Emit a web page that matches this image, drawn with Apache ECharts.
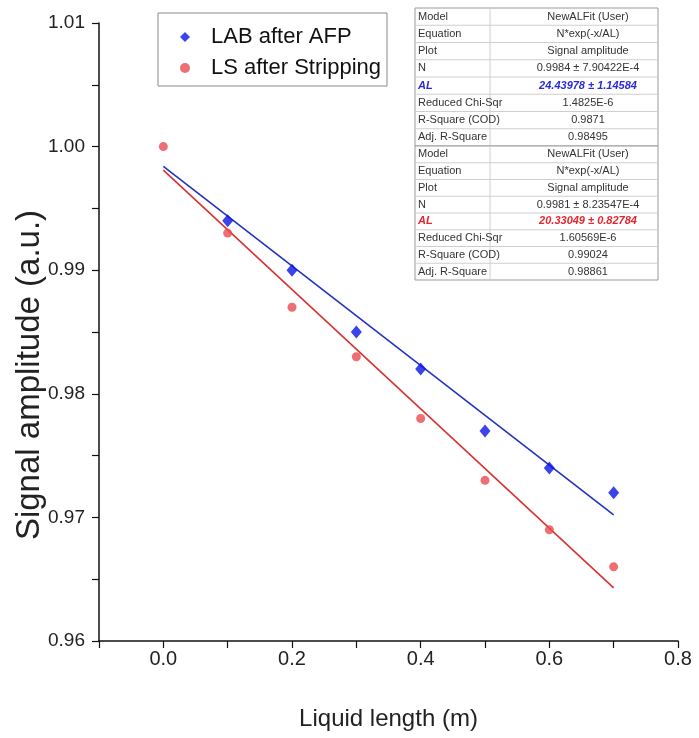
<!DOCTYPE html>
<html>
<head>
<meta charset="utf-8">
<script src="https://cdn.jsdelivr.net/npm/echarts@6/dist/echarts.min.js"></script>
<style>
html,body{margin:0;padding:0;background:#fff;}
#chart{width:699px;height:738px;}
</style>
</head>
<body>
<div id="chart"></div>
<script>
// ---- data ----
var labX = [0.1, 0.2, 0.3, 0.4, 0.5, 0.6, 0.7];
var labY = [0.994, 0.990, 0.985, 0.982, 0.977, 0.974, 0.972];
var lsX = [0.0, 0.1, 0.2, 0.3, 0.4, 0.5, 0.6, 0.7];
var lsY = [1.000, 0.993, 0.987, 0.983, 0.978, 0.973, 0.969, 0.966];
// fit line endpoints
var labFitX = [0.0, 0.7];
var labFitY = [0.9984, 0.9702];
var lsFitX = [0.0, 0.7];
var lsFitY = [0.9981, 0.9643];
var seriesNames = ['LAB after AFP', 'LS after Stripping'];
var tableLabels = ['Model', 'Equation', 'Plot', 'N', 'AL', 'Reduced Chi-Sqr', 'R-Square (COD)', 'Adj. R-Square'];
var labFitTable = ['NewALFit (User)', 'N*exp(-x/AL)', 'Signal amplitude', '0.9984 \u00b1 7.90422E-4', '24.43978 \u00b1 1.14584', '1.4825E-6', '0.9871', '0.98495'];
var lsFitTable = ['NewALFit (User)', 'N*exp(-x/AL)', 'Signal amplitude', '0.9981 \u00b1 8.23547E-4', '20.33049 \u00b1 0.82784', '1.60569E-6', '0.99024', '0.98861'];

var FONT = '"Liberation Sans", Arial, sans-serif';
var TFONT = '"Liberation Sans", Arial, sans-serif';

function zip(a, b) { return a.map(function (v, i) { return [v, b[i]]; }); }

function buildTable(x, y, w, h, sepX, labels, values, accent) {
  var rowH = h / labels.length;
  var children = [];
  children.push({ type: 'rect', shape: { x: x, y: y, width: w, height: h }, style: { fill: '#fff', stroke: '#9a9a9a', lineWidth: 1 } });
  for (var i = 1; i < labels.length; i++) {
    children.push({ type: 'line', shape: { x1: x, y1: y + i * rowH, x2: x + w, y2: y + i * rowH }, style: { stroke: '#cfcfcf', lineWidth: 1 } });
  }
  children.push({ type: 'line', shape: { x1: sepX, y1: y, x2: sepX, y2: y + h }, style: { stroke: '#cfcfcf', lineWidth: 1 } });
  for (var j = 0; j < labels.length; j++) {
    var isAL = labels[j] === 'AL';
    children.push({ type: 'text', style: { x: x + 3, y: y + j * rowH + rowH / 2, text: labels[j], fill: isAL ? accent : '#333', font: (isAL ? 'italic bold ' : '') + '11px ' + TFONT, textVerticalAlign: 'middle', textAlign: 'left' } });
    children.push({ type: 'text', style: { x: (sepX + x + w) / 2 + 14, y: y + j * rowH + rowH / 2, text: values[j], fill: isAL ? accent : '#333', font: (isAL ? 'italic bold ' : '') + '11px ' + TFONT, textVerticalAlign: 'middle', textAlign: 'center' } });
  }
  return { type: 'group', children: children, z: 100 };
}

var chart = echarts.init(document.getElementById('chart'));
var option = {
  backgroundColor: '#fff',
  animation: false,
  grid: { left: 99, right: 21, top: 23, bottom: 97, containLabel: false, outerBoundsMode: 'none' },
  legend: {
    data: [{ name: seriesNames[0], icon: 'diamond' }, { name: seriesNames[1], icon: 'circle' }],
    orient: 'vertical', left: 158, top: 13,
    borderColor: '#8a8a8a', borderWidth: 1,
    padding: [13, 6, 7, 22],
    itemWidth: 10, itemHeight: 10, itemGap: 9,
    textStyle: { fontSize: 22, fontFamily: FONT, color: '#111', padding: [0, 0, 0, 16] }
  },
  xAxis: {
    type: 'value', min: -0.1, max: 0.8, interval: 0.1,
    name: 'Liquid length (m)', nameLocation: 'middle', nameGap: 66,
    nameTextStyle: { fontSize: 24, fontFamily: FONT, color: '#222' },
    axisLine: { show: true, onZero: false, lineStyle: { color: '#111', width: 1.5 } },
    axisTick: { show: true, inside: false, length: 7, lineStyle: { color: '#111', width: 1.2 } },
    axisLabel: {
      fontSize: 20, fontFamily: FONT, color: '#222', margin: 8,
      formatter: function (v) { var k = Math.round(v * 10); return (k >= 0 && k % 2 === 0) ? (k / 10).toFixed(1) : ''; }
    },
    splitLine: { show: false }
  },
  yAxis: {
    type: 'value', min: 0.96, max: 1.01, interval: 0.01,
    name: 'Signal amplitude (a.u.)', nameLocation: 'middle', nameGap: 53, nameMoveOverlap: false,
    nameTextStyle: { fontSize: 33, fontFamily: FONT, color: '#222', padding: [0, 86, 0, 0] },
    axisLine: { show: true, onZero: false, lineStyle: { color: '#111', width: 1.5 } },
    axisTick: { show: true, inside: false, length: 7, lineStyle: { color: '#111', width: 1.2 } },
    minorTick: { show: true, splitNumber: 2, length: 7, lineStyle: { color: '#111', width: 1.2 } },
    axisLabel: { fontSize: 19, fontFamily: FONT, color: '#222', margin: 14, formatter: function (v) { return v.toFixed(2); } },
    splitLine: { show: false }
  },
  series: [
    { name: 'LAB fit', type: 'line', data: zip(labFitX, labFitY), symbol: 'none', lineStyle: { color: '#2233c0', width: 1.6 }, z: 2, silent: true },
    { name: 'LS fit', type: 'line', data: zip(lsFitX, lsFitY), symbol: 'none', lineStyle: { color: '#d83232', width: 1.6 }, z: 2, silent: true },
    { name: seriesNames[0], type: 'scatter', data: zip(labX, labY), symbol: 'diamond', symbolSize: [11, 13], itemStyle: { color: '#0a14e6' }, z: 3 },
    { name: seriesNames[1], type: 'scatter', data: zip(lsX, lsY), symbol: 'circle', symbolSize: 9, itemStyle: { color: '#e84a50' }, z: 4 }
  ],
  graphic: [
    buildTable(415, 8, 243, 138, 490, tableLabels, labFitTable, '#2a2ad6'),
    buildTable(415, 146, 243, 134, 490, tableLabels, lsFitTable, '#e3262f')
  ]
};
chart.setOption(option);
</script>
</body>
</html>
